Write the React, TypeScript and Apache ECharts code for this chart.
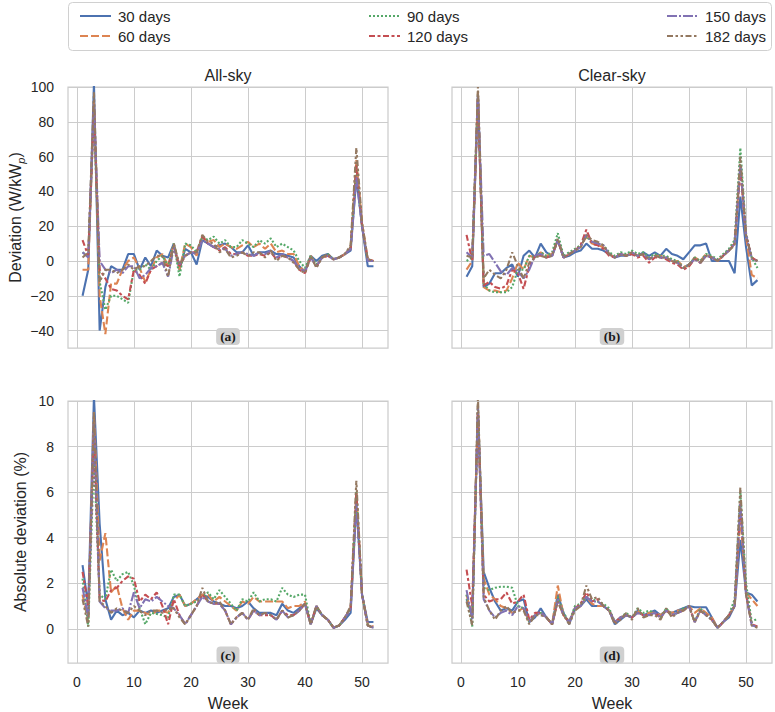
import React, { useEffect, useRef } from "react";
import * as echarts from "echarts";

const weeks = [1,2,3,4,5,6,7,8,9,10,11,12,13,14,15,16,17,18,19,20,21,22,23,24,25,26,27,28,29,30,31,32,33,34,35,36,37,38,39,40,41,42,43,44,45,46,47,48,49,50,51,52];

const seriesNames = ["30 days", "60 days", "90 days", "120 days", "150 days", "182 days"];

// (a) All-sky deviation (W/kWp)
const allSkyDev30 = [-20,-5,102,-40,-15,-3,-5,-5,4,4,-5,2,-3,6,3,2,10,-5,7,5,-2,12,10,8,9,10,8,5,5,9,3,5,5,6,4,4,3,2,-3,-6,3,0,3,4,1,2,4,6,48,20,-3,-3];
const allSkyDev60 = [-5,-5,92,-20,-42,-13,-13,-5,0,2,-4,-12,-5,2,4,-3,10,-5,10,8,3,14,11,12,8,10,8,7,9,11,8,10,7,10,5,6,4,4,-3,-6,3,-3,2,3,1,2,4,8,58,22,1,0];
const allSkyDev90 = [5,3,85,-12,-28,-20,-20,-22,-24,-5,-5,-2,-5,0,3,-3,10,-9,10,9,5,14,12,14,10,12,8,8,12,10,8,12,10,13,8,10,8,6,0,-4,3,-2,2,4,1,2,4,8,55,20,0,0];
const allSkyDev120 = [12,3,88,-5,-10,-16,-17,-20,-22,-5,-8,-13,-5,-3,-1,-3,8,-3,3,5,5,14,10,8,6,8,4,4,5,3,3,4,3,5,1,3,2,0,-5,-7,2,-3,2,3,1,2,4,7,55,20,1,0];
const allSkyDev150 = [5,2,90,0,-5,-7,-5,-7,-3,-3,-10,-8,-4,-3,-1,-9,8,-2,3,5,4,12,10,8,7,7,3,4,5,4,3,5,4,6,2,4,2,0,-4,-6,2,-3,2,3,1,2,4,7,48,20,0,0];
const allSkyDev182 = [2,5,97,-12,-5,-5,-7,-5,-2,-5,-3,-3,0,3,3,-9,10,-2,3,5,5,15,11,10,5,7,2,3,5,3,5,5,2,6,0,3,2,-1,-5,-7,3,-4,2,4,1,2,4,9,65,22,1,0];

// (b) Clear-sky deviation (W/kWp)
const clearSkyDev30 = [-9,-3,95,-15,-13,-7,-7,-4,-2,-9,3,6,2,10,5,3,12,2,3,5,6,10,7,7,6,4,2,3,3,4,3,5,3,5,3,7,4,3,1,5,9,9,10,0,0,0,0,-7,37,8,-14,-11];
const clearSkyDev60 = [-5,0,97,-15,-17,-17,-18,-17,-10,-1,-5,3,2,5,3,4,12,2,4,6,8,14,10,9,8,4,2,4,3,5,3,4,1,3,3,2,0,0,-3,-3,2,0,4,2,0,3,6,10,55,14,-8,-10];
const clearSkyDev90 = [0,2,96,-13,-17,-18,-18,-18,-15,-5,-5,3,2,5,3,5,16,3,5,7,9,14,11,10,9,5,3,5,4,6,4,5,2,4,3,3,1,0,-4,-2,2,0,4,3,1,4,7,12,65,16,2,-4];
const clearSkyDev120 = [15,0,94,-14,-12,-15,-16,-14,-5,-7,-16,-3,3,3,2,3,12,2,4,6,9,18,10,9,7,3,2,4,3,4,2,3,-1,2,2,1,-1,-2,-5,-3,1,-1,3,2,0,3,6,10,52,15,2,0];
const clearSkyDev150 = [5,2,96,3,4,-1,-6,-8,-4,-6,-10,-5,3,4,2,3,12,2,4,6,8,15,11,10,9,4,2,4,3,5,3,4,1,3,2,2,0,-1,-4,-2,1,-1,3,2,0,3,6,10,55,15,1,0];
const clearSkyDev182 = [3,2,100,-10,-5,-8,-10,-5,5,-3,-10,-1,2,3,2,3,13,2,4,6,8,15,12,11,9,4,2,4,3,5,3,4,1,3,2,2,0,-1,-4,-2,2,-1,3,2,0,3,6,9,60,14,2,0];

// (c) All-sky absolute deviation (%)
const allSkyAbs30 = [2.8,1.0,10.2,4.6,1.3,0.4,0.8,0.6,0.7,0.5,0.8,0.7,0.8,0.7,0.8,0.9,1.4,1.5,1.0,1.1,1.3,1.5,1.4,1.2,1.1,1.0,1.0,0.9,1.0,1.2,0.9,0.7,0.7,0.7,0.6,1.1,0.8,0.7,0.9,1.1,0.2,0.9,0.6,0.4,0.05,0.15,0.4,0.7,5.5,1.5,0.3,0.3];
const allSkyAbs60 = [1.5,0.3,9.5,3.0,4.2,1.6,1.9,0.9,0.4,0.8,0.8,0.7,0.6,0.8,0.8,0.7,1.2,1.5,1.0,1.1,1.3,1.5,1.5,1.2,1.4,1.2,1.0,0.8,1.2,1.1,1.4,1.2,1.2,1.2,1.2,1.2,0.9,1.0,1.0,1.2,0.2,1.0,0.6,0.4,0.05,0.15,0.5,0.9,6.0,1.5,0.2,0.1];
const allSkyAbs90 = [2.2,0.1,7.5,1.5,1.3,2.6,2.1,2.4,2.5,1.9,0.9,0.2,0.7,0.65,0.6,0.5,1.5,1.5,1.0,1.1,1.2,1.4,1.6,1.3,1.7,1.4,1.1,0.8,1.3,1.2,1.6,1.2,1.3,1.3,1.2,1.8,1.5,1.4,1.5,1.5,0.2,1.0,0.6,0.4,0.05,0.15,0.5,0.9,6.0,1.5,0.15,0.05];
const allSkyAbs120 = [2.5,1.0,8.5,1.3,1.2,1.7,1.8,2.1,2.3,2.2,1.2,1.5,1.3,1.6,1.0,0.2,1.3,0.6,0.2,0.6,1.0,1.5,1.2,1.1,1.1,0.8,0.2,0.5,0.7,0.4,0.8,0.6,0.6,0.6,0.4,0.8,0.6,0.6,0.8,1.1,0.2,1.0,0.6,0.4,0.05,0.15,0.5,0.9,6.0,1.5,0.15,0.05];
const allSkyAbs150 = [1.8,0.5,9.0,1.2,0.9,0.8,0.8,0.9,0.7,1.6,0.9,1.3,1.2,1.4,1.2,1.0,0.9,0.6,0.2,0.6,1.0,1.4,1.2,1.1,1.1,0.8,0.2,0.5,0.7,0.4,0.8,0.6,0.7,0.6,0.4,0.8,0.5,0.6,0.8,1.1,0.2,1.0,0.6,0.4,0.05,0.15,0.5,0.9,5.5,1.5,0.15,0.05];
const allSkyAbs182 = [1.3,0.1,9.5,1.2,1.0,0.7,0.9,0.8,0.7,1.0,0.8,0.6,0.8,0.8,0.7,0.9,0.9,0.5,0.2,0.6,1.0,1.8,1.2,1.1,1.2,0.8,0.2,0.5,0.7,0.4,0.9,0.6,0.7,0.6,0.4,0.8,0.5,0.6,0.8,1.1,0.2,1.0,0.6,0.4,0.05,0.15,0.5,1.0,6.5,1.5,0.15,0.05];

// (d) Clear-sky absolute deviation (%)
const clearSkyAbs30 = [1.3,0.6,9.5,2.5,1.8,1.2,0.8,0.9,0.8,1.2,1.3,0.3,0.5,0.9,0.5,0.2,1.5,0.7,0.2,0.9,1.0,1.3,1.0,1.0,1.0,0.8,0.2,0.4,0.6,0.5,0.8,0.6,0.7,0.8,0.6,0.8,0.7,0.8,0.9,1.0,0.95,0.95,0.95,0.5,0.05,0.3,0.5,1.0,3.9,1.6,1.5,1.2];
const clearSkyAbs60 = [1.5,0.5,9.8,2.2,1.5,1.3,1.0,0.9,0.7,0.8,0.9,0.3,0.6,0.7,0.5,0.2,1.9,0.6,0.3,0.9,1.0,1.4,1.1,1.0,1.0,0.8,0.3,0.5,0.6,0.5,0.8,0.6,0.7,0.7,0.6,0.8,0.7,0.8,0.8,1.0,0.7,0.9,0.7,0.5,0.05,0.3,0.6,1.0,5.0,1.6,1.3,1.0];
const clearSkyAbs90 = [1.5,0.1,9.8,1.8,1.7,1.8,1.85,1.85,1.8,1.0,0.9,0.3,0.6,0.7,0.5,0.2,1.4,0.7,0.3,1.0,1.1,1.4,1.3,1.2,1.1,0.9,0.3,0.5,0.7,0.5,0.9,0.7,0.8,0.7,0.5,0.9,0.6,0.7,0.9,1.0,0.3,0.9,0.6,0.4,0.05,0.3,0.6,1.3,6.0,2.0,0.3,0.45];
const clearSkyAbs120 = [2.6,1.0,9.5,1.5,1.2,1.3,1.3,1.6,1.1,1.2,1.5,0.4,0.7,0.7,0.5,0.2,1.2,0.6,0.3,0.9,1.1,1.6,1.2,1.3,1.0,0.8,0.3,0.5,0.6,0.5,0.7,0.6,0.6,0.7,0.5,0.8,0.6,0.7,0.8,1.0,0.3,0.8,0.6,0.4,0.05,0.3,0.6,1.0,5.5,1.5,0.2,0.1];
const clearSkyAbs150 = [1.7,0.4,9.8,1.3,0.8,0.5,0.7,0.8,0.6,1.0,0.9,0.3,0.6,0.7,0.5,0.2,1.3,0.6,0.3,0.9,1.0,1.4,1.2,1.2,1.0,0.8,0.3,0.5,0.6,0.5,0.7,0.6,0.6,0.7,0.5,0.8,0.6,0.7,0.8,1.0,0.3,0.8,0.6,0.4,0.05,0.3,0.6,1.0,5.5,1.5,0.15,0.1];
const clearSkyAbs182 = [1.2,0.15,10.2,1.4,0.8,0.4,0.8,1.0,0.7,0.8,0.8,0.2,0.6,0.6,0.5,0.2,1.2,0.6,0.2,0.8,1.0,1.9,1.3,1.4,1.0,0.8,0.2,0.4,0.7,0.4,0.9,0.5,0.6,0.6,0.4,0.9,0.5,0.7,0.8,1.0,0.3,0.8,0.6,0.4,0.05,0.3,0.6,1.0,6.2,1.5,0.15,0.05];

const xTicks = [0, 10, 20, 30, 40, 50];
const devTicks = [-40, -20, 0, 20, 40, 60, 80, 100];
const absTicks = [0, 2, 4, 6, 8, 10];

const panels = [
  [allSkyDev30, allSkyDev60, allSkyDev90, allSkyDev120, allSkyDev150, allSkyDev182],
  [clearSkyDev30, clearSkyDev60, clearSkyDev90, clearSkyDev120, clearSkyDev150, clearSkyDev182],
  [allSkyAbs30, allSkyAbs60, allSkyAbs90, allSkyAbs120, allSkyAbs150, allSkyAbs182],
  [clearSkyAbs30, clearSkyAbs60, clearSkyAbs90, clearSkyAbs120, clearSkyAbs150, clearSkyAbs182],
];

const colors = ["#4C72B0", "#DD8452", "#55A868", "#C44E52", "#8172B3", "#937860"];
const dashes: any[] = ["solid", [8, 3], [2, 2], [6, 2.5, 3, 2.5], [10, 2, 2, 2], [6, 2.5, 2.5, 2.5, 2.5, 2.5]];

const SANS = "'Liberation Sans', Arial, 'DejaVu Sans', sans-serif";
const SERIF = "'Liberation Serif', 'DejaVu Serif', serif";
const TXT = "#262626";
const GRID = "#cccccc";

const fmt = (v: number) => (v < 0 ? "\u2212" + Math.abs(v) : String(v));

export default function App() {
  const ref = useRef<HTMLDivElement>(null);
  useEffect(() => {
    if (!ref.current) return;
    const chart = echarts.init(ref.current, undefined, { renderer: "svg" });

    const grids = [
      { left: 68, top: 87, width: 320, height: 261 },
      { left: 452, top: 87, width: 320, height: 261 },
      { left: 68, top: 401, width: 320, height: 262 },
      { left: 452, top: 401, width: 320, height: 262 },
    ].map((g) => ({ ...g, show: true, borderColor: GRID, borderWidth: 1.25, backgroundColor: "transparent" }));

    const xAxis = [0, 1, 2, 3].map((i) => ({
      type: "value",
      gridIndex: i,
      min: -1.55,
      max: 54.55,
      axisLine: { show: false },
      axisTick: { show: false, customValues: xTicks },
      axisLabel: {
        show: i >= 2,
        customValues: xTicks,
        fontSize: 14,
        color: TXT,
        fontFamily: SANS,
        margin: 12,
      },
      splitLine: { show: true, lineStyle: { color: GRID, width: 1 } },
      name: i >= 2 ? "Week" : "",
      nameLocation: "middle",
      nameGap: 32,
      nameTextStyle: { fontSize: 16, color: TXT, fontFamily: SANS },
    }));

    const yAxis = [0, 1, 2, 3].map((i) => {
      const top = i < 2;
      const ticks = top ? devTicks : absTicks;
      return {
        type: "value",
        gridIndex: i,
        min: top ? -50 : -1.5,
        max: top ? 100 : 10,
        axisLine: { show: false },
        axisTick: { show: false, customValues: ticks },
        axisLabel: {
          show: i % 2 === 0,
          customValues: ticks,
          fontSize: 14,
          color: TXT,
          fontFamily: SANS,
          margin: 14,
          formatter: fmt,
        },
        splitLine: { show: true, lineStyle: { color: GRID, width: 1 } },
        name: i === 0 ? "{a|Deviation (W/kW}{b|p}{a|)}" : i === 2 ? "Absolute deviation (%)" : "",
        nameLocation: "middle",
        nameGap: 40,
        nameTextStyle: {
          fontSize: 16,
          color: TXT,
          fontFamily: SANS,
          rich: {
            a: { fontSize: 16, color: TXT, fontFamily: SANS, lineHeight: 22, verticalAlign: "middle" },
            b: { fontSize: 11, color: TXT, fontFamily: SANS, fontStyle: "italic", lineHeight: 11, verticalAlign: "bottom" },
          },
        },
      };
    });

    const series: any[] = [];
    panels.forEach((panel, p) => {
      panel.forEach((vals, s) => {
        series.push({
          type: "line",
          name: seriesNames[s],
          xAxisIndex: p,
          yAxisIndex: p,
          data: weeks.map((w, k) => [w, vals[k]]),
          symbol: "none",
          showSymbol: false,
          clip: true,
          z: 2 + s,
          itemStyle: { color: colors[s] },
          lineStyle: { color: colors[s], width: 2.1, type: dashes[s] },
          emphasis: { disabled: true },
        });
      });
    });

    const legendBase = {
      orient: "vertical",
      top: 3,
      itemWidth: 31,
      itemHeight: 14,
      itemGap: 4,
      selectedMode: false,
      itemStyle: { color: "transparent", borderWidth: 0, opacity: 0 },
      textStyle: { fontSize: 15, color: TXT, fontFamily: SANS, lineHeight: 16, padding: [0, 0, 0, 2] },
    };

    const option: any = {
      animation: false,
      backgroundColor: "#ffffff",
      grid: grids,
      xAxis,
      yAxis,
      series,
      legend: [
        { ...legendBase, left: 74, data: [seriesNames[0], seriesNames[1]] },
        { ...legendBase, left: 363, data: [seriesNames[2], seriesNames[3]] },
        { ...legendBase, left: 661, data: [seriesNames[4], seriesNames[5]] },
      ],
      graphic: [
        {
          type: "rect",
          z: -1,
          shape: { x: 68.5, y: 2.5, width: 703, height: 48, r: 4 },
          style: { fill: "#ffffff", stroke: "#d0d0d0", lineWidth: 1 },
          silent: true,
        },
        {
          type: "text",
          x: 228,
          y: 75,
          style: { text: "All-sky", fontSize: 16, fill: TXT, fontFamily: SANS, align: "center", verticalAlign: "middle" },
        },
        {
          type: "text",
          x: 612,
          y: 75,
          style: { text: "Clear-sky", fontSize: 16, fill: TXT, fontFamily: SANS, align: "center", verticalAlign: "middle" },
        },
        ...[
          ["(a)", 228, 336.5],
          ["(b)", 612, 336.5],
          ["(c)", 228, 655],
          ["(d)", 612, 655],
        ].map(([t, x, y]) => ({
          type: "text",
          x,
          y,
          z: 20,
          style: {
            text: t,
            fontSize: 13.5,
            fontWeight: "bold",
            fontFamily: SERIF,
            fill: "#1a1a1a",
            align: "center",
            verticalAlign: "middle",
            backgroundColor: "#d0d0d0",
            borderRadius: 4,
            padding: [2, 4, 1, 4],
          },
        })),
      ],
    };

    chart.setOption(option);
    return () => chart.dispose();
  }, []);

  return (
    <div
      ref={ref}
      style={{ position: "fixed", left: 0, top: 0, width: 775, height: 712, background: "#fff" }}
    />
  );
}
